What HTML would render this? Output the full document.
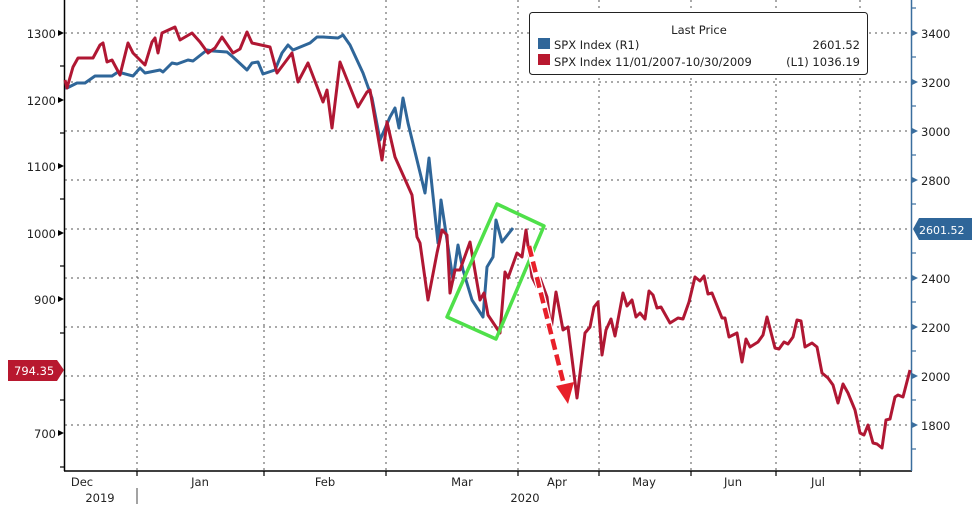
<!DOCTYPE html>
<html><head><meta charset="utf-8"><style>
html,body{margin:0;padding:0;background:#fff;}
svg{display:block;font-family:"DejaVu Sans","Liberation Sans",sans-serif;}
</style></head><body>
<svg width="976" height="509" viewBox="0 0 976 509" xmlns="http://www.w3.org/2000/svg">
<rect width="976" height="509" fill="#fff"/>
<g stroke="#555" stroke-width="1" stroke-dasharray="2,4" fill="none">
<line x1="65" y1="33" x2="911" y2="33"/>
<line x1="65" y1="82" x2="911" y2="82"/>
<line x1="65" y1="131" x2="911" y2="131"/>
<line x1="65" y1="180" x2="911" y2="180"/>
<line x1="65" y1="229" x2="911" y2="229"/>
<line x1="65" y1="278" x2="911" y2="278"/>
<line x1="65" y1="327" x2="911" y2="327"/>
<line x1="65" y1="376" x2="911" y2="376"/>
<line x1="65" y1="425" x2="911" y2="425"/>
<line x1="137" y1="0" x2="137" y2="471"/>
<line x1="264" y1="0" x2="264" y2="471"/>
<line x1="386" y1="0" x2="386" y2="471"/>
<line x1="518" y1="0" x2="518" y2="471"/>
<line x1="599" y1="0" x2="599" y2="471"/>
<line x1="691" y1="0" x2="691" y2="471"/>
<line x1="776" y1="0" x2="776" y2="471"/>
<line x1="860" y1="0" x2="860" y2="471"/>
</g>
<line x1="64.5" y1="0" x2="64.5" y2="471" stroke="#000" stroke-width="1.5"/>
<line x1="64" y1="471" x2="912" y2="471" stroke="#000" stroke-width="1.5"/>
<line x1="911.5" y1="0" x2="911.5" y2="471" stroke="#3a6e9e" stroke-width="1.5"/>
<g stroke="#000" stroke-width="1.2">
<line x1="60" y1="66" x2="64" y2="66"/><line x1="60" y1="133" x2="64" y2="133"/><line x1="60" y1="199" x2="64" y2="199"/><line x1="60" y1="266" x2="64" y2="266"/><line x1="60" y1="333" x2="64" y2="333"/><line x1="60" y1="400" x2="64" y2="400"/><line x1="60" y1="467" x2="64" y2="467"/>
<line x1="137" y1="471" x2="137" y2="476"/><line x1="264" y1="471" x2="264" y2="476"/><line x1="386" y1="471" x2="386" y2="476"/><line x1="518" y1="471" x2="518" y2="476"/><line x1="599" y1="471" x2="599" y2="476"/><line x1="691" y1="471" x2="691" y2="476"/><line x1="776" y1="471" x2="776" y2="476"/><line x1="860" y1="471" x2="860" y2="476"/>
<line x1="137" y1="488" x2="137" y2="504" stroke="#666"/>
</g>
<g stroke="#3a6e9e" stroke-width="1.2">
<line x1="912" y1="8" x2="916" y2="8"/><line x1="912" y1="57" x2="916" y2="57"/><line x1="912" y1="106" x2="916" y2="106"/><line x1="912" y1="155" x2="916" y2="155"/><line x1="912" y1="204" x2="916" y2="204"/><line x1="912" y1="253" x2="916" y2="253"/><line x1="912" y1="302" x2="916" y2="302"/><line x1="912" y1="351" x2="916" y2="351"/><line x1="912" y1="400" x2="916" y2="400"/><line x1="912" y1="449" x2="916" y2="449"/>
</g>
<g font-size="11.5" fill="#222" text-anchor="end">
<text x="56" y="38">1300</text><text x="56" y="105">1200</text><text x="56" y="171">1100</text><text x="56" y="238">1000</text><text x="56" y="304">900</text><text x="56" y="438">700</text>
</g>
<g fill="#000"><polygon points="64,33 58,30 58,36"/><polygon points="64,100 58,97 58,103"/><polygon points="64,166 58,163 58,169"/><polygon points="64,233 58,230 58,236"/><polygon points="64,299 58,296 58,302"/><polygon points="64,433 58,430 58,436"/></g>
<g fill="#3a6e9e"><polygon points="912,30 918,33 912,36"/><polygon points="912,79 918,82 912,85"/><polygon points="912,128 918,131 912,134"/><polygon points="912,177 918,180 912,183"/><polygon points="912,275 918,278 912,281"/><polygon points="912,324 918,327 912,330"/><polygon points="912,373 918,376 912,379"/><polygon points="912,422 918,425 912,428"/></g>
<g font-size="11.5" fill="#222">
<text x="921" y="38">3400</text><text x="921" y="87">3200</text><text x="921" y="136">3000</text><text x="921" y="185">2800</text><text x="921" y="283">2400</text><text x="921" y="332">2200</text><text x="921" y="381">2000</text><text x="921" y="430">1800</text>
</g>
<g font-size="11.5" fill="#222" text-anchor="middle">
<text x="82" y="486">Dec</text><text x="200" y="486">Jan</text><text x="325" y="486">Feb</text><text x="462" y="486">Mar</text><text x="557" y="486">Apr</text><text x="644" y="486">May</text><text x="733" y="486">Jun</text><text x="818" y="486">Jul</text>
<text x="100" y="502">2019</text><text x="525" y="502">2020</text>
</g>
<polyline fill="none" stroke="#2f6699" stroke-width="3" stroke-linejoin="round" points="65,88 67,88 77,83 85,83 95,76 112,76 118,72 133,76 140,68 145,73 160,70 163,72 172,63 177,64 188,60 193,61 207,50 213,51 227,52 233,57 247,70 252,63 258,62 263,74 275,70 282,53 288,45 293,50 310,43 317,37 323,37 338,38 343,35 350,45 363,73 372,98 380,140 390,117 395,108 399,128 403,98 408,123 425,193 429,158 438,243 441,200 453,280 458,245 463,270 472,300 483,317 487,267 493,257 496,220 502,242 513,228"/>
<polyline fill="none" stroke="#b01733" stroke-width="3" stroke-linejoin="round" points="65,80 67,88 73,67 78,58 93,58 100,45 103,43 107,62 112,60 120,75 128,43 133,53 145,65 152,42 155,38 158,53 162,33 175,27 180,40 192,33 200,42 208,53 215,48 222,37 233,53 240,49 247,32 252,43 270,47 277,73 292,53 298,82 308,63 323,102 327,90 332,128 340,62 358,107 367,92 370,90 382,160 387,122 395,157 412,195 417,237 420,243 428,300 437,253 442,230 447,235 450,293 455,270 460,270 470,242 480,300 484,293 488,315 500,333 505,272 508,278 517,253 522,257 526,230 532,277 537,287 540,278 547,297 551,330 556,292 563,330 568,327 577,398 585,333 590,327 594,307 598,302 602,355 606,330 611,319 615,336 623,293 627,306 632,300 636,317 640,313 645,319 649,291 653,295 657,308 661,307 670,323 678,318 683,319 689,302 695,277 700,281 704,276 708,294 712,293 722,318 725,318 729,337 737,333 742,362 746,339 750,347 758,342 763,335 767,317 775,348 779,349 784,342 788,344 793,337 797,320 801,321 805,347 812,343 817,347 822,373 828,378 833,385 838,403 843,384 848,393 855,410 860,433 864,435 868,425 873,443 877,444 882,448 886,420 890,419 895,397 898,395 903,397 910,370"/>
<polygon points="497,204 544,226 496,339 447,317" fill="none" stroke="#4fe04a" stroke-width="3.5" stroke-linejoin="round"/>
<line x1="529" y1="246" x2="564" y2="385" stroke="#fff" stroke-width="7"/>
<line x1="529" y1="246" x2="564" y2="385" stroke="#e8202a" stroke-width="4.5" stroke-dasharray="11,5"/>
<polygon points="556,386 574,382 568,404" fill="#e8202a"/>
<polygon points="8,360 57,360 64,370 57,381 8,381" fill="#b8182f"/>
<text x="14" y="375" font-size="11.5" fill="#fff">794.35</text>
<polygon points="919,218 972,218 972,240 919,240 913,229" fill="#2f6699"/>
<text x="919" y="234" font-size="11" fill="#fff">2601.52</text>
<rect x="529.5" y="12.5" width="338" height="62" rx="3" fill="#fff" stroke="#222" stroke-width="1"/>
<text x="699" y="34" font-size="11.5" fill="#222" text-anchor="middle">Last Price</text>
<rect x="538" y="38" width="12" height="11" fill="#2f6699"/>
<rect x="538" y="54" width="12" height="11" fill="#b8182f"/>
<g font-size="11.5" fill="#222">
<text x="554" y="49">SPX Index  (R1)</text>
<text x="554" y="66">SPX Index 11/01/2007-10/30/2009</text>
<text x="860" y="49" text-anchor="end">2601.52</text>
<text x="860" y="66" text-anchor="end">(L1) 1036.19</text>
</g>
</svg>
</body></html>
